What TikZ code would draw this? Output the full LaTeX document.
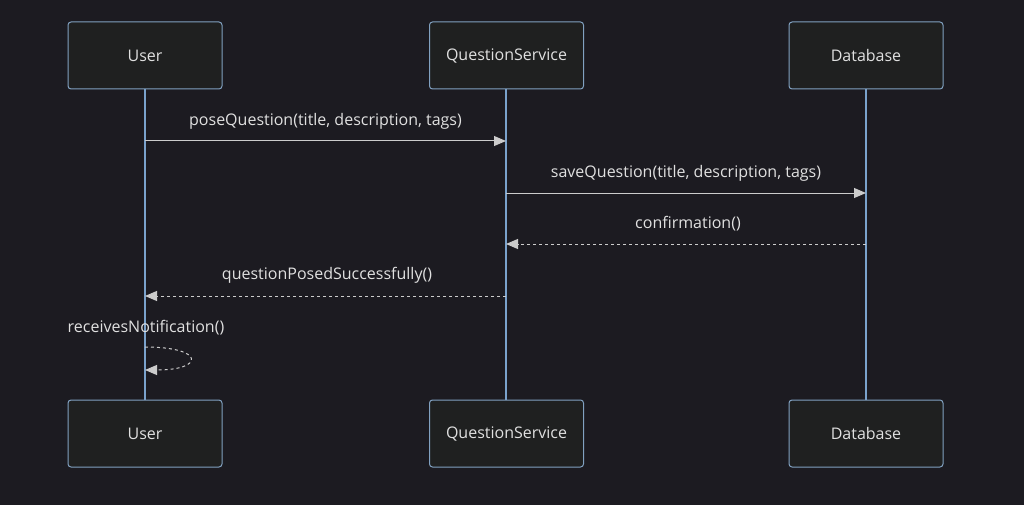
\documentclass[tikz,border=0pt]{standalone}
\usepackage{fontspec}
\setmainfont{Open Sans}
\usetikzlibrary{arrows.meta}
\definecolor{bgc}{HTML}{1C1B21}
\definecolor{boxfill}{HTML}{1F2020}
\definecolor{boxline}{HTML}{81A1C1}
\definecolor{lifec}{HTML}{7AA2CC}
\definecolor{msgc}{HTML}{CCCCCC}
\definecolor{txtc}{HTML}{E0E0E0}
\tikzset{
  actor/.style={draw=boxline, fill=boxfill, line width=1pt, rounded corners=3pt,
    minimum width=154pt, minimum height=67pt, text=txtc, font=\fontsize{16}{18}\selectfont},
  life/.style={draw=lifec, line width=1.5pt},
  msg/.style={draw=msgc, line width=1pt, -{Triangle[length=12pt,width=10pt]}, color=msgc},
  reply/.style={msg, dash pattern=on 3pt off 3pt},
  lbl/.style={text=txtc, font=\fontsize{16}{18}\selectfont}
}
\begin{document}
\begin{tikzpicture}[x=1pt,y=-1pt]
\fill[bgc] (0,0) rectangle (1024,505);
\useasboundingbox (0,0) rectangle (1024,505);
\draw[life] (145,89) -- (145,400);
\draw[life] (506,89) -- (506,400);
\draw[life] (866,89) -- (866,400);
\node[actor] (u1) at (145,55.5) {User};
\node[actor] (q1) at (506.5,55.5) {QuestionService};
\node[actor] (d1) at (866,55.5) {Database};
\node[actor] (u2) at (145,433.5) {User};
\node[actor] (q2) at (506.5,433.5) {QuestionService};
\node[actor] (d2) at (866,433.5) {Database};
\coordinate (a1) at (145,141); \coordinate (b1) at (506,141);
\coordinate (a2) at (506,193); \coordinate (b2) at (866,193);
\coordinate (a3) at (866,244); \coordinate (b3) at (506,244);
\coordinate (a4) at (506,296); \coordinate (b4) at (145,296);
\coordinate (s1) at (145,347); \coordinate (s2) at (145,370);
\draw[msg] (a1) -- (b1);
\draw[msg] (a2) -- (b2);
\draw[reply] (a3) -- (b3);
\draw[reply] (a4) -- (b4);
\draw[reply] (s1) .. controls (205,347) and (205,370) .. (s2);
\node[lbl] (l1) at (325.5,121) {poseQuestion(title, description, tags)};
\node[lbl] (l2) at (686,173) {saveQuestion(title, description, tags)};
\node[lbl] (l3) at (688,224) {confirmation()};
\node[lbl] (l4) at (327,275) {questionPosedSuccessfully()};
\node[lbl] (l5) at (146,328) {receivesNotification()};
\end{tikzpicture}
\end{document}
